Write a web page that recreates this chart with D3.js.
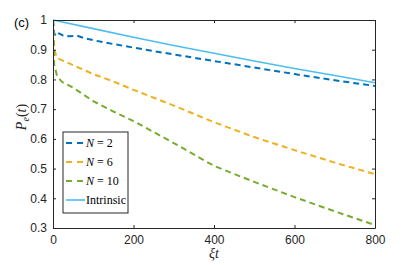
<!DOCTYPE html>
<html>
<head>
<meta charset="utf-8">
<script src="https://d3js.org/d3.v7.min.js"></script>
<style>
  body { margin: 0; background: #fff; }
  .tick text { font-family: "Liberation Sans", Arial, sans-serif; font-size: 12px; fill: #262626; }
  .serif { font-family: "Liberation Serif", "DejaVu Serif", serif; }
</style>
</head>
<body>
<svg id="chart" width="415" height="265"></svg>
<script>
// times (xi t) and curve values
const tIntr = [0, 100, 200, 300, 400, 500, 600, 700, 800];
const intrinsic = [1, 0.971, 0.942, 0.914, 0.888, 0.862, 0.837, 0.813, 0.789];

const tN2 = [0, 3, 8, 15, 25, 40, 60, 80, 100, 150, 200, 300, 400, 500, 600, 700, 800];
const n2 = [1, 0.955, 0.945, 0.955, 0.948, 0.945, 0.947, 0.938, 0.932, 0.919, 0.907, 0.884, 0.862, 0.84, 0.818, 0.797, 0.778];

const tN6 = [0, 3, 10, 20, 50, 100, 150, 200, 300, 400, 500, 600, 700, 800];
const n6 = [1, 0.9, 0.872, 0.866, 0.848, 0.818, 0.793, 0.765, 0.712, 0.656, 0.606, 0.562, 0.52, 0.481];

const tN10 = [0, 3, 10, 22, 50, 100, 150, 200, 300, 400, 500, 600, 700, 800];
const n10 = [1, 0.85, 0.812, 0.792, 0.772, 0.727, 0.692, 0.66, 0.586, 0.509, 0.455, 0.404, 0.356, 0.31];

const xTicks = [0, 200, 400, 600, 800];
const yTicks = [0.3, 0.4, 0.5, 0.6, 0.7, 0.8, 0.9, 1];

const series = [
  { name: "N = 2", t: tN2, v: n2, color: "#0072BD", dash: "6,4" },
  { name: "N = 6", t: tN6, v: n6, color: "#EDB120", dash: "6,4" },
  { name: "N = 10", t: tN10, v: n10, color: "#77AC30", dash: "6,4" },
  { name: "Intrinsic", t: tIntr, v: intrinsic, color: "#4DBEEE", dash: null }
];

const margin = { top: 20, left: 53, right: 40, bottom: 37 };
const W = 415, H = 265;
const svg = d3.select("#chart");
const x = d3.scaleLinear().domain([0, 800]).range([margin.left, W - margin.right]);
const y = d3.scaleLinear().domain([0.3, 1]).range([H - margin.bottom, margin.top]);

svg.append("defs").append("clipPath").attr("id", "clip")
  .append("rect").attr("x", margin.left).attr("y", margin.top - 2)
  .attr("width", x(800) - x(0)).attr("height", y(0.3) - y(1) + 2);

// lines
const line = d3.line().x(d => x(d[0])).y(d => y(d[1]));
series.forEach(s => {
  svg.append("path")
    .datum(s.t.map((t, i) => [t, s.v[i]]))
    .attr("clip-path", "url(#clip)")
    .attr("fill", "none")
    .attr("stroke", s.color)
    .attr("stroke-width", s.dash ? 2 : 1.6)
    .attr("stroke-dasharray", s.dash)
    .attr("d", line);
});

// axes, MATLAB-style with inward ticks and a box
const axColor = "#262626";
const styleAxis = g => {
  g.select(".domain").attr("stroke", axColor).attr("stroke-width", 1);
  g.selectAll(".tick line").attr("stroke", axColor);
};
svg.append("g").attr("transform", `translate(0,${y(0.3)})`)
  .call(d3.axisBottom(x).tickValues(xTicks).tickSizeInner(-3).tickSizeOuter(0).tickPadding(7))
  .call(styleAxis);
svg.append("g").attr("transform", `translate(0,${y(1)})`)
  .call(d3.axisTop(x).tickValues(xTicks).tickSizeInner(-3).tickSizeOuter(0).tickFormat(""))
  .call(styleAxis);
svg.append("g").attr("transform", `translate(${x(0)},0)`)
  .call(d3.axisLeft(y).tickValues(yTicks).tickSizeInner(-3).tickSizeOuter(0).tickPadding(6)
    .tickFormat(d => d === 1 ? "1" : d3.format(".1f")(d)))
  .call(styleAxis);
svg.append("g").attr("transform", `translate(${x(800)},0)`)
  .call(d3.axisRight(y).tickValues(yTicks).tickSizeInner(-3).tickSizeOuter(0).tickFormat(""))
  .call(styleAxis);

// axis labels
svg.append("text").attr("class", "serif")
  .attr("x", x(400)).attr("y", 258).attr("text-anchor", "middle")
  .attr("font-size", 14).attr("font-style", "italic").attr("fill", axColor)
  .text("ξt");

const yl = svg.append("text").attr("class", "serif")
  .attr("transform", `translate(26,117) rotate(-90)`)
  .attr("text-anchor", "middle").attr("font-size", 14).attr("fill", axColor);
yl.append("tspan").attr("font-style", "italic").text("P");
yl.append("tspan").attr("font-style", "italic").attr("font-size", 10).attr("dy", 3).text("e");
yl.append("tspan").attr("dy", -3).text("(");
yl.append("tspan").attr("font-style", "italic").text("t");
yl.append("tspan").text(")");

svg.append("text")
  .attr("x", 14).attr("y", 27)
  .attr("font-family", "Liberation Sans, Arial, sans-serif").attr("font-size", 13)
  .attr("fill", "#000").text("(c)");

// legend
const lg = svg.append("g").attr("transform", "translate(63,132)");
lg.append("rect").attr("width", 65).attr("height", 81)
  .attr("fill", "#fff").attr("stroke", axColor).attr("stroke-width", 1);
series.forEach((s, i) => {
  const yy = 11 + i * 19;
  lg.append("line").attr("x1", 3).attr("x2", 22).attr("y1", yy).attr("y2", yy)
    .attr("stroke", s.color).attr("stroke-width", s.dash ? 2 : 1.6)
    .attr("stroke-dasharray", s.dash ? "6,5" : null);
  const tx = lg.append("text").attr("class", "serif")
    .attr("x", 23).attr("y", yy + 4).attr("font-size", 12).attr("fill", "#000");
  if (s.dash) {
    const parts = s.name.split(" = ");
    tx.append("tspan").attr("font-style", "italic").text(parts[0]);
    tx.append("tspan").text(" = " + parts[1]);
  } else {
    tx.text(s.name);
  }
});
</script>
</body>
</html>
